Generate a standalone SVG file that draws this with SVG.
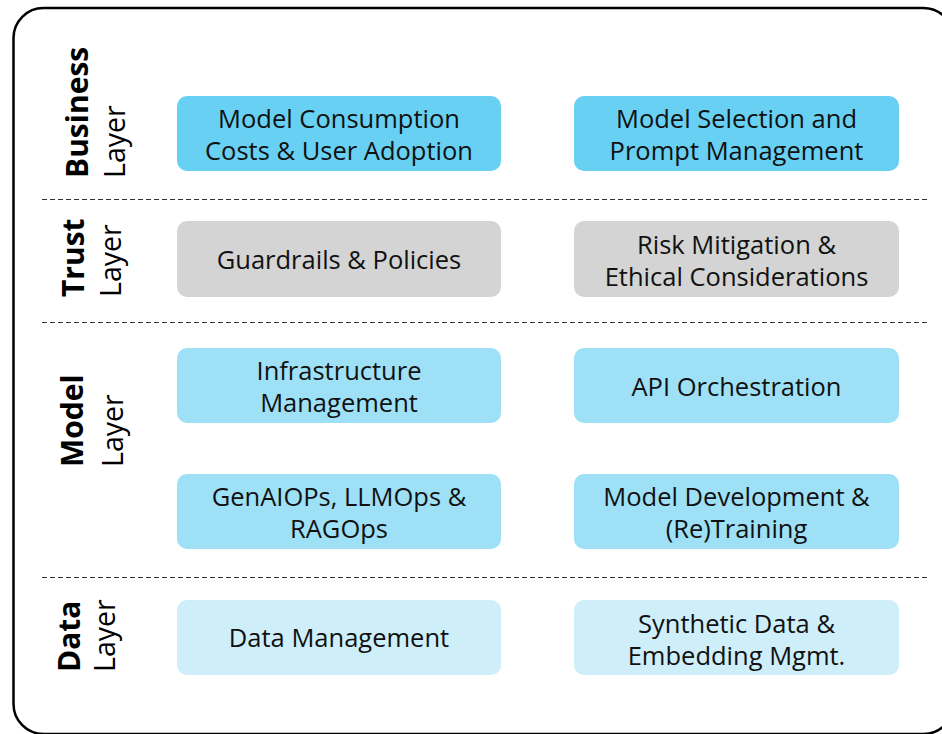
<svg xmlns="http://www.w3.org/2000/svg" width="942" height="734" viewBox="0 0 942 734">
<style>
.frame{fill:#fff;stroke:#000;stroke-width:2.5}
.sep{stroke:#333;stroke-width:1.2;stroke-dasharray:5 3}
.box{stroke:none}
.biz{fill:#67D0F3}
.trust{fill:#D4D4D4}
.model{fill:#9EE1F7}
.data{fill:#CEEEF9}
.t{font-family:"Open Sans","Noto Sans","DejaVu Sans",sans-serif;font-size:25.5px;fill:#111;text-anchor:middle}
.lb{font-family:"Open Sans","Noto Sans","DejaVu Sans",sans-serif;font-size:30px;font-weight:bold;fill:#000}
.lr{font-family:"Open Sans","Noto Sans","DejaVu Sans",sans-serif;font-size:28.5px;fill:#000}
</style>
<rect class="frame" x="13.5" y="8" width="940" height="726" rx="30"/>
<g id="connectors">
<line class="sep" x1="42" y1="199.5" x2="930" y2="199.5"/>
<line class="sep" x1="42" y1="322.5" x2="930" y2="322.5"/>
<line class="sep" x1="42" y1="577.5" x2="930" y2="577.5"/>
</g>
<g id="label-business">
<text class="lb" transform="translate(88,178) rotate(-90)">Business</text>
<text class="lr" transform="translate(125,178) rotate(-90)">Layer</text>
</g>
<g id="label-trust">
<text class="lb" transform="translate(84,297) rotate(-90)">Trust</text>
<text class="lr" transform="translate(121,297) rotate(-90)">Layer</text>
</g>
<g id="label-model">
<text class="lb" transform="translate(83,467) rotate(-90)">Model</text>
<text class="lr" transform="translate(123,467) rotate(-90)">Layer</text>
</g>
<g id="label-data">
<text class="lb" transform="translate(80,672) rotate(-90)">Data</text>
<text class="lr" transform="translate(115,672) rotate(-90)">Layer</text>
</g>
<g id="n1"><rect class="box biz" x="177" y="96" width="324" height="75" rx="10"/><text class="t" x="339" y="128">Model Consumption</text><text class="t" x="339" y="160">Costs &amp; User Adoption</text></g>
<g id="n2"><rect class="box biz" x="574" y="96" width="325" height="75" rx="10"/><text class="t" x="736.5" y="128">Model Selection and</text><text class="t" x="736.5" y="160">Prompt Management</text></g>
<g id="n3"><rect class="box trust" x="177" y="221" width="324" height="76" rx="10"/><text class="t" x="339" y="269">Guardrails &amp; Policies</text></g>
<g id="n4"><rect class="box trust" x="574" y="221" width="325" height="76" rx="10"/><text class="t" x="736.5" y="254">Risk Mitigation &amp;</text><text class="t" x="736.5" y="286">Ethical Considerations</text></g>
<g id="n5"><rect class="box model" x="177" y="348" width="324" height="75" rx="10"/><text class="t" x="339" y="380">Infrastructure</text><text class="t" x="339" y="412">Management</text></g>
<g id="n6"><rect class="box model" x="574" y="348" width="325" height="75" rx="10"/><text class="t" x="736.5" y="396">API Orchestration</text></g>
<g id="n7"><rect class="box model" x="177" y="474" width="324" height="75" rx="10"/><text class="t" x="339" y="506">GenAIOPs, LLMOps &amp;</text><text class="t" x="339" y="538">RAGOps</text></g>
<g id="n8"><rect class="box model" x="574" y="474" width="325" height="75" rx="10"/><text class="t" x="736.5" y="506">Model Development &amp;</text><text class="t" x="736.5" y="538">(Re)Training</text></g>
<g id="n9"><rect class="box data" x="177" y="600" width="324" height="75" rx="10"/><text class="t" x="339" y="647">Data Management</text></g>
<g id="n10"><rect class="box data" x="574" y="600" width="325" height="75" rx="10"/><text class="t" x="736.5" y="633">Synthetic Data &amp;</text><text class="t" x="736.5" y="665">Embedding Mgmt.</text></g>
</svg>
